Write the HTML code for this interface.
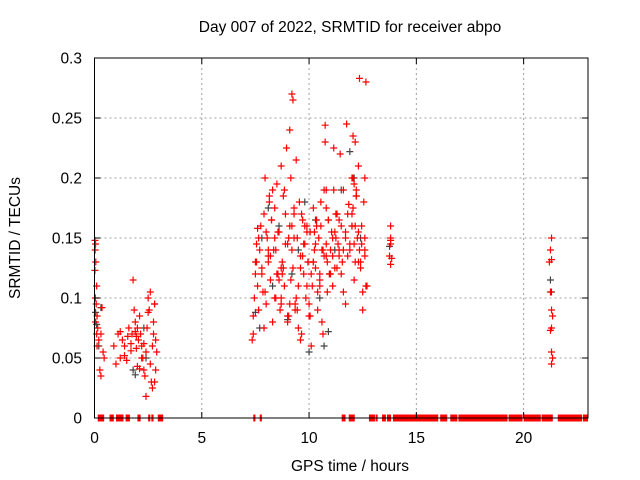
<!DOCTYPE html>
<html><head><meta charset="utf-8"><style>
html,body{margin:0;padding:0;background:#fff;width:640px;height:480px;overflow:hidden}
svg{display:block}
text{font-family:"Liberation Sans",sans-serif;font-size:15.5px;fill:#000}
</style></head><body>
<svg id="chart" width="640" height="480" viewBox="0 0 640 480" xmlns="http://www.w3.org/2000/svg">
<g id="grid"></g>
<g id="zeros"></g>
<g id="black"></g>
<g id="red"></g>
<rect x="94.5" y="58" width="493.5" height="360" fill="none" stroke="#000" stroke-width="1"/>
<g id="ticks"></g>
<text x="350" y="32" text-anchor="middle">Day 007 of 2022, SRMTID for receiver abpo</text>
<text x="350" y="471" text-anchor="middle">GPS time / hours</text>
<text x="0" y="0" text-anchor="middle" transform="translate(20,238) rotate(-90)">SRMTID / TECUs</text>
</svg>
<script>
const xTicks=[0,5,10,15,20];
const yTicks=[0,0.05,0.1,0.15,0.2,0.25,0.3];
const yTickLabels=["0","0.05","0.1","0.15","0.2","0.25","0.3"];
const zeroRanges=[[0.15,0.45],[0.7,0.9],[1.0,1.35],[1.45,1.65],[2.0,2.15],[2.5,2.6],[2.65,2.75],[2.95,3.2],[7.4,7.5],[7.7,7.8],[11.52,11.7],[11.85,12.13],[12.79,13.07],[13.1,13.14],[13.4,13.58],[13.63,13.82],[13.91,16.02],[16.11,16.44],[16.58,16.91],[16.96,19.25],[19.3,19.95],[20.0,20.8],[20.84,21.36],[21.59,22.72],[22.76,23.0]];
const redX=[0.02,0.05,0.03,0.06,0.02,0.1,0.04,0.08,0.12,0.05,0.15,0.1,0.2,0.12,0.25,0.3,0.35,0.3,0.45,0.4,
0.9,1.0,1.1,1.2,1.3,1.4,1.5,1.6,1.7,1.75,1.8,1.85,1.9,1.95,2.0,2.05,2.1,2.15,2.2,2.25,2.3,2.35,2.4,2.45,2.5,2.55,2.6,2.65,2.7,2.75,2.8,2.85,2.9,2.8,2.85,2.7,2.2,2.3,1.9,2.0,1.4,1.55,2.4,2.6,2.75,1.95,1.7,1.2,2.1,2.5,
7.35,7.4,7.45,7.5,7.55,7.6,7.4,7.5,7.6,7.65,7.7,7.75,7.8,7.85,7.9,7.95,8.0,8.05,8.1,8.15,8.2,8.25,8.3,8.35,8.4,8.45,8.5,8.55,8.6,8.65,8.7,8.75,8.8,8.85,8.9,8.95,9.0,9.05,9.1,9.15,9.2,9.25,9.3,9.35,9.4,9.45,9.5,9.55,9.6,9.65,9.7,9.75,9.8,9.85,9.9,9.95,10.0,10.05,10.1,10.15,10.2,10.25,10.3,10.35,10.4,10.45,10.5,10.55,10.6,10.65,10.7,10.75,10.8,10.85,10.9,10.95,11.0,11.05,11.1,11.15,11.2,11.25,11.3,11.35,11.4,11.5,11.6,11.7,11.8,11.9,12.0,12.05,12.1,12.15,12.2,12.25,12.3,12.35,12.4,12.45,12.5,12.55,12.6,12.65,
7.9,8.1,8.3,8.5,8.7,8.9,9.1,9.3,9.5,9.7,9.9,10.1,10.3,10.5,10.7,10.9,11.1,11.3,11.5,11.7,11.9,12.1,12.3,12.5,
8.0,8.2,8.4,8.6,8.8,9.0,9.2,9.4,9.6,9.8,10.0,10.2,10.4,10.6,10.8,11.0,11.2,11.4,11.6,11.8,12.0,12.2,12.4,12.6,
8.15,8.45,8.75,9.05,9.35,9.65,9.95,10.25,10.55,10.85,11.15,11.45,11.75,12.05,12.35,12.65,
9.2,9.25,10.75,10.8,12.0,12.05,12.1,12.15,12.2,11.6,11.3,12.6,12.7,9.1,8.7,
7.55,7.65,7.8,7.95,8.1,8.25,8.4,8.55,8.7,8.85,9.0,9.15,9.3,9.45,9.6,9.75,9.9,10.05,10.2,10.35,10.5,10.65,10.8,10.95,11.1,11.25,11.4,11.55,11.7,11.85,12.0,12.15,12.3,12.45,12.6,
13.8,13.8,13.8,13.8,13.8,13.75,13.85,
21.2,21.25,21.3,21.35,21.3,21.25,21.3,21.35,21.3,21.25,21.3,21.3,21.35,21.25,21.3,21.35,21.3,21.25];
const redY=[0.148,0.145,0.14,0.13,0.123,0.11,0.1,0.095,0.085,0.08,0.075,0.07,0.065,0.06,0.04,0.035,0.092,0.07,0.05,0.055,
0.06,0.045,0.07,0.05,0.065,0.06,0.048,0.075,0.062,0.07,0.115,0.09,0.08,0.058,0.075,0.065,0.085,0.07,0.06,0.05,0.04,0.035,0.055,0.075,0.1,0.09,0.045,0.03,0.06,0.08,0.095,0.04,0.055,0.03,0.065,0.025,0.05,0.062,0.072,0.043,0.052,0.068,0.018,0.105,0.07,0.068,0.056,0.072,0.041,0.088,
0.065,0.085,0.1,0.12,0.145,0.158,0.07,0.13,0.11,0.09,0.14,0.16,0.125,0.105,0.075,0.2,0.095,0.15,0.135,0.185,0.115,0.165,0.08,0.14,0.175,0.1,0.195,0.12,0.155,0.09,0.21,0.13,0.185,0.11,0.17,0.225,0.145,0.085,0.24,0.2,0.16,0.125,0.175,0.095,0.215,0.15,0.11,0.18,0.135,0.07,0.165,0.12,0.145,0.1,0.16,0.13,0.085,0.155,0.06,0.11,0.175,0.14,0.125,0.165,0.09,0.15,0.115,0.16,0.08,0.07,0.19,0.23,0.135,0.105,0.165,0.12,0.14,0.155,0.11,0.19,0.125,0.15,0.17,0.145,0.135,0.16,0.19,0.155,0.135,0.14,0.16,0.175,0.145,0.13,0.185,0.15,0.21,0.14,
0.13,0.16,0.09,0.18,0.15,0.11,0.17,0.13,0.19,0.12,0.1,0.145,0.095,0.17,0.075,0.135,0.155,0.12,0.145,0.11,0.135,0.165,0.15,0.17,
0.12,0.095,0.145,0.115,0.13,0.105,0.155,0.135,0.15,0.115,0.125,0.085,0.14,0.1,0.065,0.16,0.095,0.13,0.105,0.14,0.145,0.12,0.155,0.165,
0.14,0.17,0.16,0.185,0.125,0.2,0.18,0.14,0.12,0.15,0.09,0.17,0.13,0.155,0.18,0.13,
0.225,0.22,0.245,0.235,0.283,0.28,0.27,0.265,0.244,0.19,0.2,0.2,0.195,0.23,0.19,
0.105,0.125,0.14,0.11,0.16,0.095,0.13,0.15,0.12,0.105,0.14,0.165,0.1,0.155,0.125,0.19,0.08,0.115,0.15,0.09,0.125,0.145,0.11,0.085,0.13,0.16,0.12,0.14,0.175,0.12,0.135,0.17,0.14,0.13,0.15,
0.178,0.17,0.16,0.155,0.145,0.135,0.128,
0.16,0.15,0.148,0.145,0.135,0.133,0.13,0.105,0.09,0.085,0.075,0.073,0.055,0.05,0.045,0.14,0.132,0.15];
const blackX=[0.05,0.1,0.3,0.2,1.8,1.9,2.3,2.4,2.8,7.5,7.7,7.8,8.1,8.3,8.6,9.0,9.2,9.5,9.8,10.0,10.3,10.5,10.7,10.9,11.2,11.5,11.9,12.1,12.4,13.75,21.25,21.3];
const blackY=[0.088,0.078,0.092,0.06,0.04,0.036,0.075,0.05,0.095,0.088,0.075,0.15,0.175,0.11,0.16,0.082,0.12,0.14,0.18,0.055,0.165,0.1,0.06,0.072,0.14,0.19,0.222,0.2,0.15,0.143,0.115,0.105];

const NS='http://www.w3.org/2000/svg';
const X0=94.5,X1=588,Y0=418,Y1=58,XMAX=23,YMAX=0.3;
function xs(v){return X0+(X1-X0)*v/XMAX;}
function ys(v){return Y0-(Y0-Y1)*v/YMAX;}
function mk(tag,attrs,parent){const e=document.createElementNS(NS,tag);for(const k in attrs)e.setAttribute(k,attrs[k]);parent.appendChild(e);return e;}
const grid=document.getElementById('grid'),ticks=document.getElementById('ticks');
xTicks.forEach((t,i)=>{
  const x=xs(t);
  if(t>0){const g=mk('line',{x1:x,x2:x,y1:Y1,y2:Y0,stroke:'#a0a0a0','stroke-dasharray':'2,3'},grid);
  
  }
  const a=mk('line',{x1:x,x2:x,y1:Y0,y2:Y0-6,stroke:'#000'},ticks);
  
  
  const b=mk('line',{x1:x,x2:x,y1:Y1,y2:Y1+6,stroke:'#000'},ticks);
  
  
  const tx=mk('text',{x:x,y:443,'text-anchor':'middle'},ticks);tx.textContent=String(t);
  
  
});
yTicks.forEach((t,i)=>{
  const y=ys(t);
  if(t>0&&t<YMAX){const g=mk('line',{x1:X0,x2:X1,y1:y,y2:y,stroke:'#a0a0a0','stroke-dasharray':'2,3'},grid);
  
  }
  const a=mk('line',{x1:X0,x2:X0+6,y1:y,y2:y,stroke:'#000'},ticks);
  
  
  const b=mk('line',{x1:X1,x2:X1-6,y1:y,y2:y,stroke:'#000'},ticks);
  
  
  const tx=mk('text',{x:82,y:y+5.5,'text-anchor':'end'},ticks);tx.textContent=yTickLabels[i];
  
  
});
const zg=document.getElementById('zeros');
zeroRanges.forEach(r=>{
  const x1=xs(r[0]),x2=xs(r[1]);
  const e=mk('rect',{x:x1,y:ys(0)-3.5,width:Math.max(x2-x1,2),height:7,fill:'#ff0000'},zg);
  
  
});
function plus(g,x,y,col,name){
  const p=mk('path',{d:`M${x-3.5} ${y}H${x+3.5}M${x} ${y-3.5}V${y+3.5}`,stroke:col,'stroke-width':1.2,fill:'none'},g);
  
  
}
const bg=document.getElementById('black');
blackX.forEach((v,i)=>plus(bg,xs(v),ys(blackY[i]),'#444','black-point'));
const rg=document.getElementById('red');
redX.forEach((v,i)=>plus(rg,xs(v),ys(redY[i]),'#ff0000','red-point'));
</script>
</body></html>
